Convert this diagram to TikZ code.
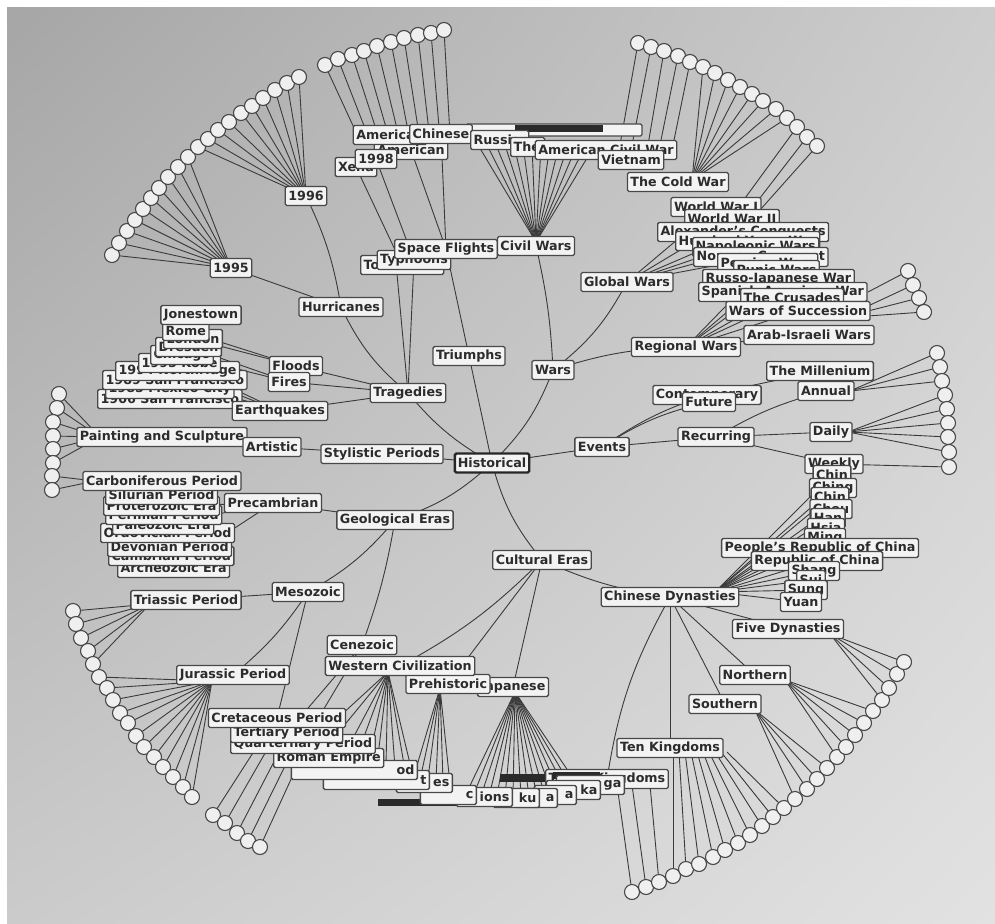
\documentclass[tikz,border=0pt]{standalone}
\usepackage{fontspec}
\setmainfont{DejaVu Sans}
\usetikzlibrary{shadings}
\pgfdeclarelayer{bglayer}
\pgfdeclarelayer{edgelayer}
\pgfsetlayers{bglayer,edgelayer,main}
\definecolor{edgec}{HTML}{3A3A3A}
\definecolor{boxfill}{HTML}{F3F3F3}
\definecolor{boxline}{HTML}{484848}
\definecolor{txtc}{HTML}{2C2C2C}
\definecolor{leaffill}{HTML}{EFEFEF}
\definecolor{bgTL}{HTML}{A6A6A6}
\definecolor{bgTR}{HTML}{CDCDCD}
\definecolor{bgBL}{HTML}{CBCBCB}
\definecolor{bgBR}{HTML}{E2E2E2}
\definecolor{darkbar}{HTML}{2A2A2A}
\tikzset{
  lb/.style={draw=boxline, fill=boxfill, line width=1.3pt, rounded corners=1.5pt,
     inner xsep=3pt, inner ysep=1.5pt, minimum height=19pt, text=txtc,
     font=\bfseries\fontsize{12.7}{14}\selectfont},
  lbw/.style={lb, anchor=west, text width=#1, align=left},
  lbe/.style={lb, anchor=east, text width=#1, align=right},
  leaf/.style={circle, draw=boxline, fill=leaffill, line width=1.1pt, minimum size=15pt, inner sep=0pt},
  ed/.style={draw=edgec, line width=0.9pt},
}
\begin{document}
\begin{tikzpicture}[x=1pt,y=-1pt]
\useasboundingbox (0,0) rectangle (995,923);
\begin{pgfonlayer}{bglayer}
\fill[white] (0,0) rectangle (995,923);
\shade[upper left=bgTL, upper right=bgTR, lower left=bgBL, lower right=bgBR] (7,8) rectangle (995,923);
\end{pgfonlayer}

% ---------------- leaves
\foreach \x/\y [count=\i] in {112/255,119/243,127/231,135/220,143/209,151/198,159/188,168/177,178/167,188/157}
  {\node[leaf] (lA\i) at (\x,\y) {};}
\foreach \x/\y [count=\i] in {198/147,208/139,218/130,229/122,241/113,252/106,263/98,275/90,287/83,299/77}
  {\node[leaf] (lB\i) at (\x,\y) {};}
\foreach \x/\y [count=\i] in {325/65,338/59,352/55,364/51,377/46,391/42,404/38,418/35,431/33,444/30}
  {\node[leaf] (lC\i) at (\x,\y) {};}
\foreach \x/\y [count=\i] in {638/43,651/47,664/51,678/56,690/62,703/67,715/73,728/80,740/87,752/94,763/101,776/109,787/118,797/127,807/137,817/146}
  {\node[leaf] (lD\i) at (\x,\y) {};}
\foreach \x/\y [count=\i] in {908/271,913/285,919/298,924/312}
  {\node[leaf] (lE\i) at (\x,\y) {};}
\foreach \x/\y [count=\i] in {937/353,940/367,942/381,945/395,947/409,948/423,948/437,949/452,949/467}
  {\node[leaf] (lF\i) at (\x,\y) {};}
\foreach \x/\y [count=\i] in {59/394,57/408,53/422,53/436,53/449,53/463,52/476,52/490}
  {\node[leaf] (lG\i) at (\x,\y) {};}
\foreach \x/\y [count=\i] in {73/611,76/624,81/638,88/651,93/664,99/677,107/688,113/700,120/713,128/723,136/736,144/747,154/757,163/767,173/777,183/787,192/797}
  {\node[leaf] (lH\i) at (\x,\y) {};}
\foreach \x/\y [count=\i] in {213/815,225/823,237/833,248/841,260/847}
  {\node[leaf] (lI\i) at (\x,\y) {};}
\foreach \x/\y [count=\i] in {632/892,646/887,659/882,673/876,686/869,699/864,713/857,725/850,738/843,750/835,762/826,773/817,784/808,795/799,807/789,817/779,827/768,837/757,846/747,855/735,864/723,873/711,882/700,889/688,897/674,904/662}
  {\node[leaf] (lJ\i) at (\x,\y) {};}

% ---------------- dark overlap bars
\draw[boxline, fill=boxfill, line width=1.2pt, rounded corners=1.5pt] (466,124) rectangle (642,136);
\fill[darkbar] (515,125) rectangle (603,132);
\fill[darkbar] (345,779) rectangle (395,786);
\fill[darkbar] (378,799) rectangle (512,806);
\fill[darkbar] (500,774) rectangle (585,782);

% ---------------- top stack (hurricanes / civil wars)
\node[lb] (xena) at (356,167) {Xena};
\node[lb] (amer2) at (411,150) {American};
\node[lb] (y1998) at (376,159) {1998};
\node[lb] (americ) at (390,135) {American};
\node[lb] (chinese) at (441,134) {Chinese};
\node[lbw=52pt] (russ) at (470,140) {Russian};
\node[lbw=28pt] (th) at (510,147) {The};
\node[lb] (acw) at (606,150) {American Civil War};
\node[lb] (viet) at (631,160) {Vietnam};
\node[lb] (cold) at (678,182) {The Cold War};
\node[lb] (y1996) at (306,196) {1996};
\node[lb] (y1995) at (231,268) {1995};
\node[lbw=77pt] (torn) at (360,265) {Tornados};
\node[lb] (typh) at (414,260) {Typhoons};
\node[lb] (space) at (446,249) {Space Flights};
\node[lb] (civil) at (536,246) {Civil Wars};

% ---------------- wars stacks
\node[lb] (wwi) at (716,207) {World War I};
\node[lb] (wwii) at (732,219) {World War II};
\node[lb, anchor=west] (alex) at (657,232) {Alexander's Conquests};
\node[lb, anchor=west] (hundred) at (675,241) {Hundred Years War};
\node[lb, anchor=west] (napo) at (692,247) {Napoleonic Wars};
\node[lb, anchor=west] (norman) at (693,257) {Norman Conquest};
\node[lb, anchor=west] (persian) at (717,263) {Persian Wars};
\node[lb, anchor=west] (punic) at (733,270) {Punic Wars};
\node[lb, anchor=west] (russo) at (702,279) {Russo-Japanese War};
\node[lb, anchor=west] (spanish) at (698,292) {Spanish-American War};
\node[lb, anchor=west] (crus) at (740,298) {The Crusades};
\node[lb] (succ) at (798,311) {Wars of Succession};
\node[lb] (arab) at (809,335) {Arab-Israeli Wars};
\node[lb] (global) at (627,282) {Global Wars};
\node[lb] (regional) at (686,347) {Regional Wars};
\node[lb] (wars) at (553,370) {Wars};
\node[lb] (trium) at (469,356) {Triumphs};
\node[lb] (hurr) at (341,307) {Hurricanes};

% ---------------- tragedies stack
\node[lb, anchor=west] (sf1906) at (97,399) {1906 San Francisco};
\node[lb, anchor=west] (mexico) at (105,389) {1985 Mexico City};
\node[lb, anchor=west] (sf1989) at (102,380) {1989 San Francisco};
\node[lb, anchor=west] (northr) at (115,371) {1994 Northridge};
\node[lb, anchor=west] (kobe) at (138,363) {1995 Kobe};
\node[lb, anchor=west] (chicago) at (150,355) {Chicago};
\node[lb, anchor=west] (dresden) at (155,347) {Dresden};
\node[lb, anchor=west] (london) at (163,339) {London};
\node[lb, anchor=west] (rome) at (162,331) {Rome};
\node[lb] (jones) at (201,315) {Jonestown};
\node[lb] (earth) at (280,411) {Earthquakes};
\node[lb] (floods) at (296,366) {Floods};
\node[lb] (fires) at (289,382) {Fires};
\node[lb] (trag) at (408,393) {Tragedies};

% ---------------- left: art and geology
\node[lb] (paint) at (162,437) {Painting and Sculpture};
\node[lb] (art) at (272,447) {Artistic};
\node[lb] (styl) at (382,454) {Stylistic Periods};
\node[lb, anchor=west] (archeo) at (117,568) {Archeozoic Era};
\node[lb, anchor=west] (cambr) at (108,556) {Cambrian Period};
\node[lb, anchor=west] (devon) at (107,547) {Devonian Period};
\node[lb, anchor=west] (ordo) at (100,533) {Ordovician Period};
\node[lb, anchor=west] (paleo) at (112,525) {Paleozoic Era};
\node[lb, anchor=west] (permian) at (105,515) {Permian Period};
\node[lb, anchor=west] (protero) at (103,506) {Proterozoic Era};
\node[lb, anchor=west] (silur) at (105,495) {Silurian Period};
\node[lb] (carbon) at (162,481) {Carboniferous Period};
\node[lb] (prec) at (273,503) {Precambrian};
\node[lb] (geo) at (395,520) {Geological Eras};
\node[lb] (meso) at (308,592) {Mesozoic};
\node[lb] (tria) at (186,600) {Triassic Period};
\node[lb] (jura) at (233,675) {Jurassic Period};

% ---------------- bottom stack
\node[lb] (threek) at (607,779) {Three Kingdoms};
\fill[darkbar] (553,772) rectangle (600,779);
\node[lbe=62pt] (ga) at (625,785) {ga};
\node[lbe=48pt] (ka) at (601,790) {ka};
\node[lbe=36pt] (aa) at (577,795) {a};
\node[lbe=36pt] (ab) at (558,798) {a};
\node[lbe=40pt] (ku) at (540,798) {ku};
\node[lbe=50pt] (ions) at (513,797) {ions};
\node[lbe=50pt] (cc) at (477,795) {c};
\node[lbe=50pt] (es) at (453,783) {es};
\node[lbe=100pt] (tt) at (430,780) {t};
\node[lbe=120pt] (od) at (418,770) {od};
\node[lb, anchor=west] (roman) at (273,758) {Roman Empire};
\node[lb, anchor=west] (quart) at (230,744) {Quarternary Period};
\node[lb, anchor=west] (tert) at (230,733) {Tertiary Period};
\node[lb] (cret) at (277,718) {Cretaceous Period};
\node[lb] (cene) at (362,645) {Cenezoic};
\node[lb] (jap) at (513,687) {Japanese};
\node[lb] (prehist) at (448,684) {Prehistoric};
\node[lb] (west) at (400,666) {Western Civilization};
\node[lb] (cult) at (542,560) {Cultural Eras};

% ---------------- chinese dynasties
\node[lb] (tenk) at (670,748) {Ten Kingdoms};
\node[lb] (south) at (725,704) {Southern};
\node[lb] (north) at (755,675) {Northern};
\node[lb] (five) at (788,629) {Five Dynasties};
\node[lb] (weekly) at (834,464) {Weekly};
\node[lb] (chinA) at (832,475) {Chin};
\node[lb] (ching) at (833,488) {Ching};
\node[lb] (chinB) at (830,497) {Chin};
\node[lb] (chou) at (831,509) {Chou};
\node[lb] (han) at (828,518) {Han};
\node[lb] (hsia) at (826,528) {Hsia};
\node[lb] (ming) at (825,538) {Ming};
\node[lb] (prc) at (820,548) {People's Republic of China};
\node[lb] (roc) at (817,561) {Republic of China};
\node[lb] (shang) at (814,571) {Shang};
\node[lb] (sui) at (811,580) {Sui};
\node[lb] (sung) at (806,590) {Sung};
\node[lb] (yuan) at (801,602) {Yuan};
\node[lb] (chin) at (670,597) {Chinese Dynasties};

% ---------------- events
\node[lb] (events) at (602,447) {Events};
\node[lb] (cont) at (707,395) {Contemporary};
\node[lb] (future) at (709,402) {Future};
\node[lb] (mill) at (820,371) {The Millenium};
\node[lb] (annual) at (826,391) {Annual};
\node[lb] (recur) at (716,437) {Recurring};
\node[lb] (daily) at (831,432) {Daily};
\node[lb, line width=2.4pt, draw=black!85] (hist) at (492,463) {Historical};

% ---------------- coordinates for fans
\coordinate (cCold) at (692,180);
\coordinate (cAnn) at (850,391);
\coordinate (cDaily) at (848,432);
\coordinate (cPaint) at (100,437);
\coordinate (cCarb) at (95,481);
\coordinate (cTria) at (150,604);
\coordinate (cJura) at (212,681);
\coordinate (cSouth) at (755,710);
\coordinate (cNorth) at (785,680);
\coordinate (cFive) at (830,634);
\coordinate (cChin) at (715,592);
\coordinate (cWest) at (388,672);
\coordinate (cPre) at (440,688);
\coordinate (cJap) at (515,692);
\coordinate (cCivil) at (536,242);
\foreach \i in {1,...,10} {\coordinate (tC\i) at ({347+10.3*\i},135);}
\foreach \i/\ex in {1/620,2/632,3/648,4/660,5/673} {\coordinate (tD\i) at (\ex,145);}
\coordinate (tD14) at (740,205); \coordinate (tD15) at (753,207); \coordinate (tD16) at (760,210);
\foreach \i/\ey in {1/292,2/306,3/311,4/316} {\coordinate (tE\i) at (868,\ey);}
\foreach \i/\ex/\ey in {1/258/745,2/268/748,3/278/754,4/288/760,5/298/764} {\coordinate (tI\i) at (\ex,\ey);}
\foreach \i/\ex in {1/617,2/632,3/650} {\coordinate (tJ\i) at (\ex,785);}
\foreach \i in {4,...,13} {\coordinate (tJ\i) at ({673+6*(\i-4)},752);}
\foreach \i in {0,...,13} {\coordinate (tCv\i) at ({478+9*\i},145);}
\foreach \ex/\ey [count=\i] in {340/716,342/728,352/740,362/742,372/745,378/756,386/765,395/768,405/770,412/772} {\coordinate (tW\i) at (\ex,\ey);}
\foreach \ex/\ey [count=\i] in {415/772,421/775,428/778,436/780,443/782,450/784} {\coordinate (tP\i) at (\ex,\ey);}
\foreach \i in {0,...,15} {\coordinate (tJa\i) at ({465+8*\i},796);}

% ---------------- edges
\begin{pgfonlayer}{edgelayer}
\foreach \i in {1,...,10} {\draw[ed] (lA\i.center) -- (y1995.center);}
\foreach \i in {1,...,10} {\draw[ed] (lB\i.center) -- (y1996.center);}
\foreach \i in {1,...,10} {\draw[ed] (lC\i.center) -- (tC\i);}
\foreach \i in {1,...,5} {\draw[ed] (lD\i.center) -- (tD\i);}
\foreach \i in {6,...,13} {\draw[ed] (lD\i.center) -- (cCold);}
\foreach \i in {14,15,16} {\draw[ed] (lD\i.center) -- (tD\i);}
\foreach \i in {1,...,4} {\draw[ed] (lE\i.center) -- (tE\i);}
\foreach \i in {1,2,3} {\draw[ed] (lF\i.center) -- (cAnn);}
\foreach \i in {4,...,8} {\draw[ed] (lF\i.center) -- (cDaily);}
\draw[ed] (lF9.center) -- (weekly.center);
\foreach \i in {1,...,6} {\draw[ed] (lG\i.center) -- (cPaint);}
\foreach \i in {7,8} {\draw[ed] (lG\i.center) -- (cCarb);}
\foreach \i in {1,...,5} {\draw[ed] (lH\i.center) -- (cTria);}
\foreach \i in {6,...,17} {\draw[ed] (lH\i.center) -- (cJura);}
\foreach \i in {1,...,5} {\draw[ed] (lI\i.center) -- (tI\i);}
\foreach \i in {1,...,13} {\draw[ed] (lJ\i.center) -- (tJ\i);}
\foreach \i in {14,...,17} {\draw[ed] (lJ\i.center) -- (cSouth);}
\foreach \i in {18,...,22} {\draw[ed] (lJ\i.center) -- (cNorth);}
\foreach \i in {23,...,26} {\draw[ed] (lJ\i.center) -- (cFive);}
\foreach \i in {0,...,13} {\draw[ed] (cCivil) -- (tCv\i);}
\foreach \i in {1,...,10} {\draw[ed] (cWest) -- (tW\i);}
\foreach \i in {1,...,6} {\draw[ed] (cPre) -- (tP\i);}
\foreach \i in {0,...,15} {\draw[ed] (cJap) -- (tJa\i);}
\foreach \n in {chinA,ching,chinB,chou,han,hsia,ming,prc,roc,shang,sui,sung,yuan} {\draw[ed] (cChin) -- (\n.center);}
% main tree
\draw[ed] (hist.center) -- (events.center);
\draw[ed] (hist.center) -- (styl.center);
\draw[ed] (hist.center) to[bend left=12] (geo.center);
\draw[ed] (hist.center) to[bend right=12] (cult.center);
\draw[ed] (hist.center) to[bend left=10] (trag.center);
\draw[ed] (hist.center) -- (trium.center);
\draw[ed] (hist.center) to[bend right=12] (wars.center);
\draw[ed] (wars.center) to[bend right=5] (civil.center);
\draw[ed] (wars.center) to[bend right=12] (global.center);
\draw[ed] (wars.center) to[bend left=8] (regional.center);
\foreach \n in {wwi,wwii,alex,hundred,napo,norman} {\draw[ed] (global.center) -- (\n.center);}
\foreach \n in {persian,punic,russo,spanish,crus,succ,arab} {\draw[ed] (regional.center) -- (\n.center);}
\draw[ed] (trium.center) -- (space.center);
\draw[ed] (space.center) -- (amer2.center);
\draw[ed] (space.center) -- (chinese.center);
\draw[ed] (typh.center) -- (y1998.center);
\draw[ed] (torn.center) -- (xena.center);
\draw[ed] (trag.center) -- (typh.center);
\draw[ed] (trag.center) -- ([xshift=-6pt]torn.center);
\draw[ed] (trag.center) to[bend left=12] (hurr.center);
\draw[ed] (trag.center) -- (floods.center);
\draw[ed] (trag.center) -- (fires.center);
\draw[ed] (trag.center) -- (earth.center);
\draw[ed] (hurr.center) to[bend right=8] (y1996.center);
\draw[ed] (hurr.center) -- (y1995.center);
\draw[ed] (floods.center) -- (rome.center);
\draw[ed] (floods.center) -- (london.center);
\foreach \n in {dresden,chicago} {\draw[ed] (fires.center) -- (\n.center);}
\foreach \n in {kobe,northr,sf1989,mexico,sf1906} {\draw[ed] (earth.center) -- (\n.center);}
\draw[ed] (styl.center) -- (art.center);
\draw[ed] (art.center) -- (paint.center);
\draw[ed] (geo.center) -- (prec.center);
\draw[ed] (geo.center) to[bend left=10] (meso.center);
\draw[ed] (geo.center) to[bend left=5] (cene.center);
\foreach \n in {protero,paleo,archeo} {\draw[ed] (prec.center) -- (\n.center);}
\draw[ed] (meso.center) -- (tria.center);
\draw[ed] (meso.center) to[bend left=8] (jura.center);
\draw[ed] (meso.center) -- (cret.center);
\draw[ed] (cene.center) -- (tert.center);
\draw[ed] (cene.center) -- (quart.center);
\draw[ed] (cult.center) to[bend left=8] (west.center);
\draw[ed] (cult.center) -- (prehist.center);
\draw[ed] (cult.center) -- (jap.center);
\draw[ed] (cult.center) to[bend right=8] (chin.center);
\draw[ed] (chin.center) to[bend right=10] (threek.center);
\draw[ed] (chin.center) -- (tenk.center);
\draw[ed] (chin.center) -- (south.center);
\draw[ed] (chin.center) -- (north.center);
\draw[ed] (chin.center) -- (five.center);
\draw[ed] (events.center) to[bend left=8] (cont.center);
\draw[ed] (events.center) to[bend left=10] (future.center);
\draw[ed] (events.center) -- (recur.center);
\draw[ed] (cont.center) -- (mill.center);
\draw[ed] (recur.center) to[bend left=8] (annual.center);
\draw[ed] (recur.center) -- (daily.center);
\draw[ed] (recur.center) -- (weekly.center);
\end{pgfonlayer}
\end{tikzpicture}
\end{document}
